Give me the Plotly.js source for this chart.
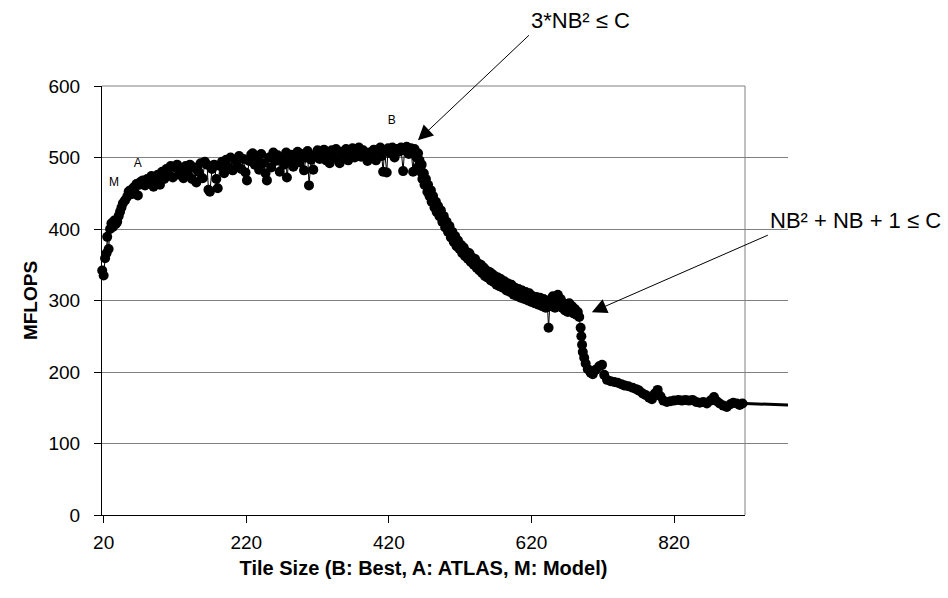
<!DOCTYPE html>
<html>
<head>
<meta charset="utf-8">
<script src="https://cdn.plot.ly/plotly-3.0.1.min.js"></script>
<style>html,body{margin:0;padding:0;background:#fff;}#chart{width:948px;height:598px;}</style>
</head>
<body>
<div id="chart"></div>
<script>
// Tile size (NB) and measured MFLOPS
var tileSize = [18,20,22,24,25,27,29,31,33,35,37,39,41,43,45,47,50,53,55,57,60,62,64,66,68,70,72,75,78,81,84,87,90,93,96,99,
102,105,108,111,114,117,120,123,126,129,132,135,138,141,144,147,150,153,156,159,162,165,167,169,172,175,178,180,183,186,189,192,195,198,
201,204,207,210,213,216,219,221,224,227,229,232,235,238,241,244,247,249,252,255,258,261,264,267,270,273,276,277,280,283,286,289,292,295,298,
301,304,306,308,311,314,317,320,323,326,329,332,335,337,340,343,346,349,351,354,357,360,363,366,369,372,375,378,381,384,387,390,393,396,399,
402,405,408,410,412,414,417,419,422,425,428,431,434,437,440,442,445,448,451,454,456,459,
461,462,463,465,466,467,469,470,472,474,475,477,479,480,482,484,486,487,489,491,493,495,497,499,
501,503,505,507,509,511,513,515,517,519,521,523,525,527,529,531,533,535,537,539,541,543,545,547,549,
551,553,555,557,559,561,563,565,567,569,571,573,575,577,580,582,585,587,590,592,595,597,
600,602,605,607,610,612,615,617,620,622,625,627,630,632,635,637,640,642,644,646,648,650,653,655,657,659,
661,663,665,667,669,671,673,675,677,679,681,683,685,687,689,690,691,692,694,696,699,
703,706,710,715,719,722,726,731,736,741,746,751,756,762,767,771,776,780,785,789,793,797,
801,805,810,815,820,826,831,836,841,846,851,856,861,866,871,876,880,884,889,894,899,903,908,912,916];
var mflops = [342,335,359,366,389,372,400,408,403,412,407,410,418,424,430,436,440,445,452,454,449,458,459,463,447,462,466,468,461,470,466,474,459,470,476,462,
480,470,484,476,488,472,486,490,476,484,471,488,478,490,470,486,465,480,492,471,494,490,455,452,484,490,470,457,488,494,478,497,486,500,
482,497,488,502,484,498,479,468,495,504,506,490,500,483,505,492,478,468,500,486,507,495,503,480,498,490,507,472,495,504,487,500,508,493,505,
482,500,509,461,497,483,504,510,498,507,511,496,505,492,510,500,512,497,492,508,501,512,496,506,513,500,508,514,501,510,505,495,507,500,511,
496,509,514,502,480,510,479,513,506,514,500,512,508,514,481,510,515,505,513,480,512,500,
506,488,496,480,490,470,478,462,470,452,462,446,454,438,446,430,438,424,432,418,426,410,418,402,
410,396,404,388,396,382,390,376,384,372,378,366,374,362,368,358,366,354,360,350,358,346,352,342,350,
338,346,334,342,332,340,328,337,326,334,322,332,320,330,318,327,314,324,312,322,308,318,
306,316,304,314,302,312,300,310,298,306,296,305,294,304,292,302,290,300,262,298,292,306,290,300,308,296,
302,290,296,286,294,284,296,288,292,282,288,280,284,277,262,250,238,228,220,212,204,
199,197,203,208,210,196,189,187,186,185,183,181,180,178,176,174,170,168,164,162,170,175,
166,160,158,159,160,161,160,161,160,161,158,157,158,156,160,165,159,156,153,151,155,157,156,154,156];

// Series line continuing past the plot frame
var tailSize = [916, 980];
var tailMflops = [156, 154];

// Point labels (B: Best, A: ATLAS, M: Model)
var pointLabels = ['M', 'A', 'B'];
var pointLabelSize = [34.6, 68, 424];
var pointLabelMflops = [465, 490.6, 550.7];

// Tick labels
var xTickVals = [20, 220, 420, 620, 820];
var xTickText = ['20', '220', '420', '620', '820'];
var yTickVals = [0, 100, 200, 300, 400, 500, 600];
var yTickText = ['0', '100', '200', '300', '400', '500', '600'];

// Callout texts and the points they indicate
var calloutText = ['3*NB² ≤ C', 'NB² + NB + 1 ≤ C'];
var calloutSize = [460.8, 704.7];
var calloutMflops = [524.1, 283.7];

var FONT = 'Liberation Sans, Arial, sans-serif';
var mainFrac = 643 / 686;

var traces = [
  {
    x: tileSize, y: mflops, type: 'scatter', mode: 'lines+markers',
    line: {color: '#000', width: 1},
    marker: {color: '#000', size: 10, symbol: 'circle'},
    cliponaxis: false, showlegend: false, hoverinfo: 'x+y'
  },
  {
    x: tailSize, y: tailMflops, type: 'scatter', mode: 'lines',
    xaxis: 'x2', yaxis: 'y',
    line: {color: '#000', width: 3},
    showlegend: false, hoverinfo: 'skip'
  },
  {
    x: pointLabelSize, y: pointLabelMflops, type: 'scatter', mode: 'text',
    text: pointLabels, textfont: {family: FONT, size: 12, color: '#000'},
    cliponaxis: false, showlegend: false, hoverinfo: 'skip'
  }
];

var tailOffsetX = [111, 176];
var tailOffsetY = [-105, -77];
var annotations = [];
for (var i = 0; i < calloutText.length; i++) {
  annotations.push({
    x: calloutSize[i], y: calloutMflops[i], xref: 'x', yref: 'y',
    text: calloutText[i], font: {family: FONT, size: 22, color: '#000'},
    xanchor: 'left', yanchor: 'bottom',
    showarrow: true, arrowhead: 2, arrowsize: 3, arrowwidth: 1,
    arrowcolor: '#000', standoff: 0, startstandoff: 0,
    ax: tailOffsetX[i], ay: tailOffsetY[i]
  });
}

// plot frame: grey top and right edges of the plotting area
var shapes = [
  {type: 'line', xref: 'x domain', yref: 'y domain', x0: 0, x1: 1, y0: 1, y1: 1,
   line: {color: '#808080', width: 1}, layer: 'below'},
  {type: 'line', xref: 'x domain', yref: 'y domain', x0: 1, x1: 1, y0: 0, y1: 1,
   line: {color: '#808080', width: 1}, layer: 'below'}
];

var layout = {
  width: 948, height: 598,
  margin: {l: 102, r: 160, t: 86, b: 83, pad: 0},
  paper_bgcolor: '#fff', plot_bgcolor: '#fff',
  font: {family: FONT, color: '#000'},
  showlegend: false,
  xaxis: {
    domain: [0, mainFrac], range: [17.7, 919.5],
    tickmode: 'array', tickvals: xTickVals, ticktext: xTickText,
    ticks: 'outside', ticklen: 7, tickcolor: '#000', tickwidth: 1,
    ticklabelstandoff: 3,
    showline: true, linecolor: '#000', linewidth: 1,
    showgrid: false, zeroline: false,
    tickfont: {family: FONT, size: 19, color: '#000'},
    title: {text: 'Tile Size (B: Best, A: ATLAS, M: Model)', font: {family: FONT, size: 20, weight: 'bold', color: '#000'}, standoff: 9}
  },
  xaxis2: {
    domain: [mainFrac, 1], range: [919.5, 979.8], anchor: 'y',
    visible: false, showgrid: false, zeroline: false
  },
  yaxis: {
    range: [0, 600],
    tickmode: 'array', tickvals: yTickVals, ticktext: yTickText,
    ticks: 'outside', ticklen: 7, tickcolor: '#000', tickwidth: 1,
    ticklabelstandoff: 10,
    showline: true, linecolor: '#000', linewidth: 1,
    showgrid: true, gridcolor: '#808080', gridwidth: 1, zeroline: false,
    tickfont: {family: FONT, size: 19, color: '#000'},
    title: {text: 'MFLOPS', font: {family: FONT, size: 19, weight: 'bold', color: '#000'}, standoff: 5}
  },
  shapes: shapes,
  annotations: annotations
};

Plotly.newPlot('chart', traces, layout, {displayModeBar: false, staticPlot: true});
</script>
</body>
</html>
